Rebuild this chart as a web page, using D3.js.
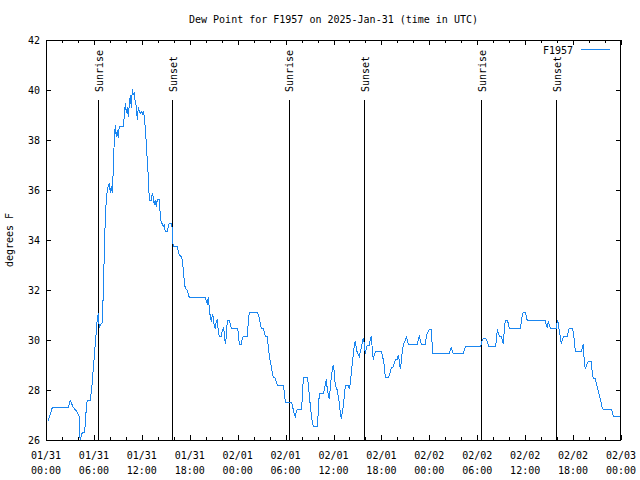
<!DOCTYPE html>
<html>
<head>
<meta charset="utf-8">
<script src="https://cdn.jsdelivr.net/npm/d3@7"></script>
<style>
  html, body { margin: 0; padding: 0; background: #fff; }
  svg { display: block; }
  text { font-family: "DejaVu Sans Mono", "Liberation Mono", monospace; font-size: 10px; fill: #000; }
</style>
</head>
<body>
<svg id="chart" width="640" height="480"></svg>
<script>
// ---- data (hours after 2025-01-31 00:00 UTC, dew point in degrees F) ----
const title = "Dew Point for F1957 on 2025-Jan-31 (time in UTC)";
const seriesName = "F1957";
const yLabel = "degrees F";

const hours = [
  0.29,0.79,2.79,3.04,3.42,3.79,4.04,4.13,4.17,4.30,4.42,4.55,4.80,4.92,5.05,5.17,5.55,5.67,5.80,5.92,
  6.05,6.17,6.30,6.42,6.55,6.67,6.80,7.05,7.10,7.18,7.30,7.43,7.55,7.68,7.80,7.93,8.05,8.18,8.30,8.43,
  8.55,8.68,8.80,8.93,9.05,9.18,9.68,9.80,9.93,10.06,10.18,10.31,10.43,10.56,10.68,10.81,10.93,11.06,11.18,11.31,
  11.43,11.56,11.68,11.81,11.93,12.06,12.18,12.31,12.43,12.56,12.68,12.81,12.94,13.19,13.31,13.44,13.56,13.69,13.81,13.94,
  14.19,14.31,14.44,14.56,14.69,14.81,14.94,15.19,15.31,15.44,15.69,15.82,15.87,15.94,16.44,16.57,16.69,16.94,17.07,17.19,
  17.32,17.44,17.69,17.82,17.94,19.95,20.07,20.20,20.32,20.45,20.57,20.70,20.82,20.95,21.07,21.20,21.32,21.45,21.58,21.70,
  21.95,22.08,22.20,22.33,22.45,22.58,22.70,22.95,23.08,23.20,23.95,24.08,24.20,24.45,24.58,24.70,25.21,25.33,25.46,26.46,
  26.58,26.71,26.83,26.96,27.21,27.33,27.46,27.71,27.84,27.96,28.09,28.21,28.34,28.46,28.71,28.84,28.96,29.71,29.84,29.97,
  30.72,30.84,30.97,31.09,31.22,31.34,31.47,31.97,32.09,32.22,32.72,32.84,32.97,33.10,33.22,33.35,33.47,33.97,34.10,34.22,
  34.72,34.85,34.97,35.10,35.22,35.35,35.47,35.60,35.72,35.85,35.97,36.10,36.22,36.35,36.47,36.60,36.73,36.85,36.98,37.10,
  37.23,37.35,37.48,37.85,37.98,38.10,38.23,38.35,38.48,38.60,38.73,38.85,38.98,39.11,39.23,39.36,39.48,39.61,39.73,39.86,
  39.98,40.11,40.23,40.48,40.61,40.73,40.86,40.98,41.11,41.23,41.99,42.11,42.24,42.36,42.49,42.86,42.99,43.11,43.24,43.49,
  43.61,43.74,43.99,44.11,44.24,44.36,44.49,44.61,44.74,44.99,45.12,45.24,45.37,46.49,46.62,46.74,46.87,46.99,47.50,47.62,
  47.75,47.87,48.00,48.25,48.33,48.42,50.50,50.62,50.75,50.87,51.00,52.25,52.38,52.50,52.63,54.43,54.56,54.68,54.81,55.06,
  55.18,55.31,55.43,56.26,56.38,56.51,56.64,56.76,57.01,57.14,57.26,57.39,57.51,57.76,57.89,58.01,59.39,59.52,59.64,59.77,
  60.02,60.14,60.27,62.52,62.65,62.77,62.90,63.02,63.15,63.90,64.03,64.15,64.28,64.40,64.53,64.65,64.78,65.28,65.40,65.53,
  65.90,66.03,66.15,66.28,67.03,67.16,67.28,67.41,67.53,67.66,67.78,67.91,68.28,68.41,68.53,68.78,68.91,69.03,69.16,69.28,
  69.41,69.53,69.66,69.78,70.79,70.91,71.04,71.91
];
const dewF = [
  26.77,27.30,27.30,27.59,27.30,27.17,27.03,27.03,26.27,26.00,26.19,26.29,26.29,26.63,27.31,27.59,27.59,27.93,28.33,28.87,
  29.33,29.87,30.33,30.87,31.07,30.47,30.60,30.69,31.16,32.00,33.47,34.93,35.60,36.00,36.16,36.27,35.87,36.16,35.87,36.87,
  38.00,38.60,38.13,38.40,38.07,38.56,38.56,38.93,39.49,39.07,39.33,38.93,39.44,39.80,39.27,40.03,39.80,39.93,39.47,39.36,
  38.80,39.33,39.13,39.07,39.13,39.04,39.17,38.93,38.47,37.87,37.20,36.53,35.60,35.60,35.87,35.73,35.40,35.60,35.33,35.63,
  35.63,35.00,34.67,34.67,34.53,34.60,34.33,34.33,34.53,34.67,34.67,34.47,33.93,33.73,33.73,33.53,33.40,33.33,33.20,32.80,
  32.33,32.07,32.00,31.83,31.71,31.71,31.57,31.47,31.71,31.27,30.93,30.73,31.00,30.93,30.53,30.47,30.73,30.80,30.33,30.16,
  30.16,30.40,30.47,30.29,29.84,30.13,30.77,30.77,30.64,30.47,30.47,30.33,29.84,29.84,30.04,30.15,30.15,30.73,31.11,31.11,
  31.00,30.87,30.67,30.47,30.47,30.33,30.13,30.13,29.73,29.40,29.13,28.93,28.67,28.53,28.47,28.33,28.20,28.20,27.93,27.49,
  27.49,27.40,27.20,27.03,26.93,27.13,27.23,27.23,27.60,28.51,28.51,28.27,27.80,27.37,27.00,26.73,26.56,26.56,27.13,27.87,
  27.87,28.00,28.20,28.44,28.03,27.84,27.63,28.07,28.53,28.80,29.00,28.73,28.20,28.07,28.00,27.73,27.47,27.07,26.83,27.13,
  27.33,27.73,28.19,28.19,28.03,28.27,28.67,29.07,29.40,29.80,29.96,29.67,29.49,29.40,29.33,29.53,29.67,29.93,30.07,29.87,
  29.44,29.67,29.80,29.80,30.00,30.16,29.63,29.20,29.40,29.53,29.53,29.40,29.20,28.96,28.51,28.51,28.60,28.73,28.87,28.93,
  29.07,29.20,29.23,29.40,29.20,28.83,29.13,29.53,29.80,30.00,30.13,30.00,29.84,29.84,30.00,30.15,30.00,29.84,29.84,30.13,
  30.27,30.33,30.43,30.43,29.96,29.47,29.47,29.60,29.73,29.53,29.47,29.47,29.60,29.73,29.76,29.76,29.93,30.03,30.07,30.07,
  30.00,29.87,29.76,29.76,29.93,30.43,30.27,30.16,30.13,30.00,29.84,30.40,30.77,30.77,30.67,30.47,30.47,30.73,31.00,31.11,
  31.11,30.93,30.77,30.77,30.60,30.47,30.77,30.60,30.47,30.47,30.80,30.67,30.33,30.13,29.84,30.00,30.13,30.13,30.33,30.47,
  30.47,30.33,30.00,29.53,29.53,29.67,29.84,29.07,28.83,28.96,29.07,29.13,29.13,28.67,28.47,28.47,28.24,28.11,27.93,27.80,
  27.63,27.47,27.27,27.23,27.23,27.13,26.93,26.93
];

const sunLabels = ["Sunrise","Sunset","Sunrise","Sunset","Sunrise","Sunset"];
const sunHours  = [6.54, 15.82, 30.42, 39.85, 54.50, 63.88];

const yTicks = [26,28,30,32,34,36,38,40,42];
const xTickStepHours = 2;
const xLabelStepHours = 6;

// ---- drawing ----
const M = {left: 46, right: 621, top: 40, bottom: 440};
const t0 = Date.UTC(2025, 0, 31, 0, 0);
const toDate = h => new Date(t0 + h * 3600e3);

const x = d3.scaleUtc().domain([toDate(0), toDate(72)]).range([M.left, M.right]);
const y = d3.scaleLinear().domain([26, 42]).range([M.bottom, M.top]);

const svg = d3.select("#chart");
const lineColor = "#1a86f0";

// title
svg.append("text")
  .attr("x", (M.left + M.right) / 2).attr("y", 23)
  .attr("text-anchor", "middle")
  .text(title);

// y axis label
svg.append("text")
  .attr("transform", `translate(13,${(M.top + M.bottom) / 2}) rotate(-90)`)
  .attr("text-anchor", "middle")
  .text(yLabel);

// ticks
const allXTicks = d3.utcHour.every(xTickStepHours).range(toDate(0), toDate(72.01));
const labelXTicks = d3.utcHour.every(xLabelStepHours).range(toDate(0), toDate(72.01));
const isMajor = d => (d.getUTCHours() % xLabelStepHours) === 0;

const tickG = svg.append("g").attr("stroke", "#000").attr("stroke-width", 1).attr("shape-rendering", "crispEdges");
tickG.selectAll("line.xb").data(allXTicks).join("line")
  .attr("x1", d => Math.round(x(d)) + 0.5).attr("x2", d => Math.round(x(d)) + 0.5)
  .attr("y1", M.bottom).attr("y2", d => M.bottom - (isMajor(d) ? 5 : 3));
tickG.selectAll("line.xt").data(allXTicks).join("line")
  .attr("x1", d => Math.round(x(d)) + 0.5).attr("x2", d => Math.round(x(d)) + 0.5)
  .attr("y1", M.top).attr("y2", d => M.top + (isMajor(d) ? 5 : 3));
tickG.selectAll("line.yl").data(yTicks).join("line")
  .attr("x1", M.left).attr("x2", M.left + 5)
  .attr("y1", d => Math.round(y(d)) + 0.5).attr("y2", d => Math.round(y(d)) + 0.5);
tickG.selectAll("line.yr").data(yTicks).join("line")
  .attr("x1", M.right).attr("x2", M.right - 5)
  .attr("y1", d => Math.round(y(d)) + 0.5).attr("y2", d => Math.round(y(d)) + 0.5);

// y tick labels
svg.append("g").selectAll("text").data(yTicks).join("text")
  .attr("x", 40).attr("y", d => y(d) + 4)
  .attr("text-anchor", "end")
  .text(d => d);

// x tick labels (two lines)
const fmtDate = d3.utcFormat("%m/%d");
const fmtTime = d3.utcFormat("%H:%M");
const xl = svg.append("g").selectAll("text").data(labelXTicks).join("text")
  .attr("text-anchor", "middle");
xl.append("tspan").attr("x", d => x(d)).attr("y", 459).text(d => fmtDate(d));
xl.append("tspan").attr("x", d => x(d)).attr("y", 474).text(d => fmtTime(d));

// sunrise / sunset markers
const sunG = svg.append("g");
sunG.selectAll("line").data(sunHours).join("line")
  .attr("x1", d => Math.round(x(toDate(d))) + 0.5).attr("x2", d => Math.round(x(toDate(d))) + 0.5)
  .attr("y1", 100).attr("y2", M.bottom)
  .attr("stroke", "#000").attr("stroke-width", 1).attr("shape-rendering", "crispEdges");
sunG.selectAll("text").data(sunHours).join("text")
  .attr("transform", d => `translate(${x(toDate(d)) + 4.5},92) rotate(-90)`)
  .attr("text-anchor", "start")
  .text((d, i) => sunLabels[i]);

// data line
const pts = hours.map((h, i) => [toDate(h), dewF[i]]);
svg.append("path")
  .datum(pts)
  .attr("fill", "none")
  .attr("stroke", lineColor)
  .attr("stroke-width", 1)
  .attr("shape-rendering", "crispEdges")
  .attr("d", d3.line().x(d => x(d[0])).y(d => y(d[1])));

// frame
svg.append("rect")
  .attr("x", M.left + 0.5).attr("y", M.top + 0.5)
  .attr("width", M.right - M.left - 1).attr("height", M.bottom - M.top)
  .attr("fill", "none").attr("stroke", "#000").attr("stroke-width", 1)
  .attr("shape-rendering", "crispEdges");

// legend
svg.append("text").attr("x", 573).attr("y", 54).attr("text-anchor", "end").text(seriesName);
svg.append("line")
  .attr("x1", 581).attr("x2", 610).attr("y1", 49.5).attr("y2", 49.5)
  .attr("stroke", lineColor).attr("stroke-width", 1)
  .attr("shape-rendering", "crispEdges");
</script>
</body>
</html>
